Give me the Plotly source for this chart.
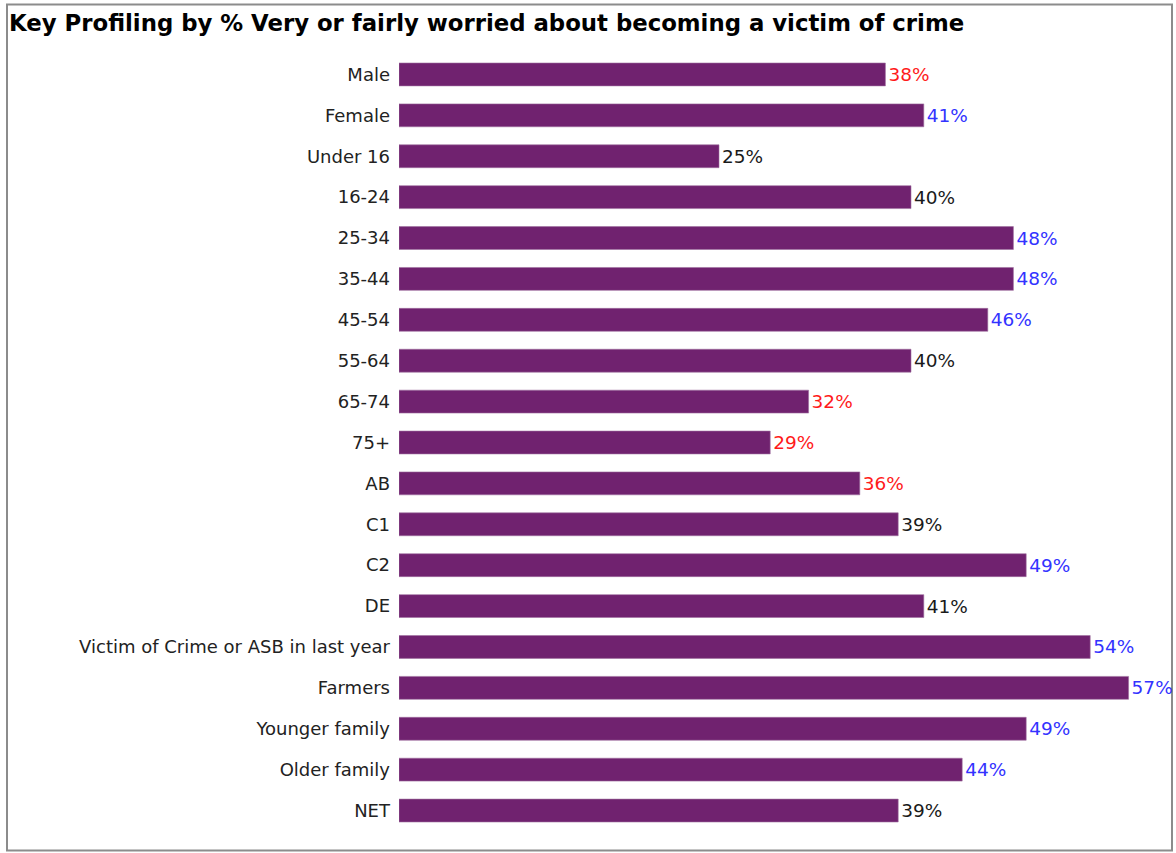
import plotly.graph_objects as go

# Profile groups, top to bottom
categories = [
    "Male", "Female", "Under 16", "16-24", "25-34", "35-44", "45-54",
    "55-64", "65-74", "75+", "AB", "C1", "C2", "DE",
    "Victim of Crime or ASB in last year", "Farmers", "Younger family",
    "Older family", "NET",
]
# % very or fairly worried about becoming a victim of crime
values = [38, 41, 25, 40, 48, 48, 46, 40, 32, 29, 36, 39, 49, 41, 54, 57, 49, 44, 39]
# Significance vs. total: "low", "high" or "none"
significance = ["low", "high", "none", "none", "high", "high", "high", "none",
                "low", "low", "low", "none", "high", "none", "high", "high",
                "high", "high", "none"]

sig_colors = {"low": "#FF1A1A", "high": "#3333FF", "none": "#1A1A1A"}
label_colors = [sig_colors[s] for s in significance]
labels = [f"{v}%" for v in values]

FONT = "DejaVu Sans, Liberation Sans, Arial, sans-serif"

fig = go.Figure(
    go.Bar(
        x=values,
        y=categories,
        orientation="h",
        marker=dict(color="#70226F", line=dict(color="#A070A0", width=0.6)),
        text=labels,
        textposition="outside",
        textfont=dict(family=FONT, size=18.5, color=label_colors),
        cliponaxis=False,
        width=0.56,
        hoverinfo="skip",
    )
)

fig.update_layout(
    width=1176,
    height=853,
    margin=dict(l=399, r=9, t=53.5, b=21.5),
    paper_bgcolor="white",
    plot_bgcolor="white",
    showlegend=False,
    font=dict(family=FONT, size=18, color="#222222"),
    title=dict(
        text="<b>Key Profiling by % Very or fairly worried about becoming a victim of crime</b>",
        x=9 / 1176,
        xanchor="left",
        y=1 - 23 / 853,
        yanchor="middle",
        font=dict(family=FONT, size=22.8, color="#000000"),
    ),
    xaxis=dict(
        range=[0, 60],
        visible=False,
        showgrid=False,
        zeroline=False,
    ),
    yaxis=dict(
        autorange="reversed",
        showgrid=False,
        zeroline=False,
        showline=False,
        ticks="",
        ticklabelstandoff=8,
        tickfont=dict(family=FONT, size=18, color="#222222"),
    ),
    shapes=[
        dict(
            type="rect",
            xref="paper",
            yref="paper",
            x0=(7 - 399) / 768,
            x1=(1172 - 399) / 768,
            y0=(831.5 - 851) / 778,
            y1=(831.5 - 4) / 778,
            line=dict(color="#8C8C8C", width=2),
            fillcolor="rgba(0,0,0,0)",
            layer="below",
        )
    ],
)

fig.write_html("out.html")
